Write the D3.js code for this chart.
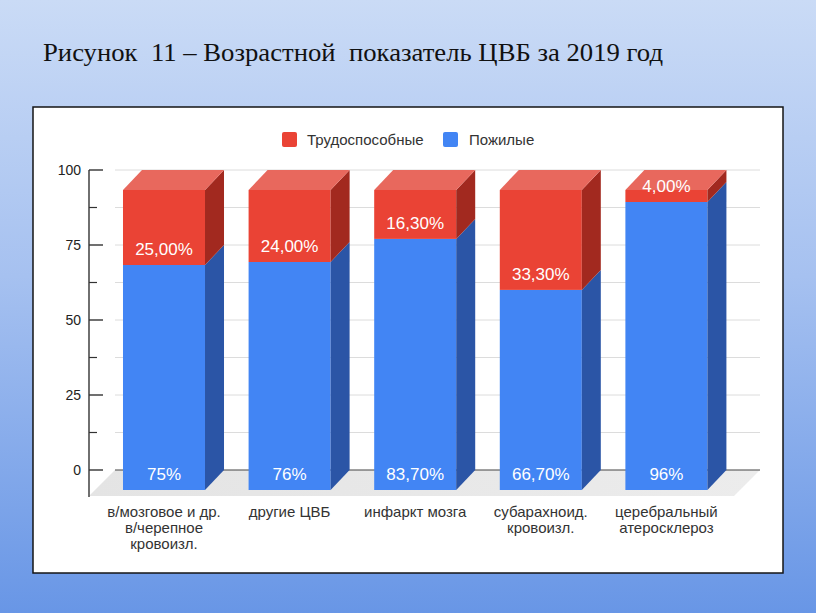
<!DOCTYPE html>
<html>
<head>
<meta charset="utf-8">
<script src="https://cdn.jsdelivr.net/npm/d3@7"></script>
<style>
html,body{margin:0;padding:0;}
svg{display:block;}
</style>
</head>
<body>
<svg id="chart" width="816" height="613"></svg>
<script>
// ---- data ----
const categories = [
  ["в/мозговое и др.", "в/черепное", "кровоизл."],
  ["другие ЦВБ"],
  ["инфаркт мозга"],
  ["субарахноид.", "кровоизл."],
  ["церебральный", "атеросклероз"]
];
const seriesNames = ["Трудоспособные", "Пожилые"];
const elderly = [75, 76, 83.7, 66.7, 96];
const working = [25, 24, 16.3, 33.3, 4];
const elderlyLabels = ["75%", "76%", "83,70%", "66,70%", "96%"];
const workingLabels = ["25,00%", "24,00%", "16,30%", "33,30%", "4,00%"];
const yTicks = [0, 25, 50, 75, 100];
const yMinorTicks = [12.5, 37.5, 62.5, 87.5];
const titleText = "Рисунок  11 – Возрастной  показатель ЦВБ за 2019 год";

// ---- setup ----
const svg = d3.select("#chart");
const defs = svg.append("defs");
const bg = defs.append("linearGradient").attr("id", "bg").attr("x1", 0).attr("y1", 0).attr("x2", 0).attr("y2", 1);
bg.append("stop").attr("offset", "0%").attr("stop-color", "#cadbf6");
bg.append("stop").attr("offset", "45%").attr("stop-color", "#a6c1f0");
bg.append("stop").attr("offset", "100%").attr("stop-color", "#6896e6");
const fl = defs.append("linearGradient").attr("id", "floor").attr("x1", 0).attr("y1", 0).attr("x2", 1).attr("y2", 0);
fl.append("stop").attr("offset", "0%").attr("stop-color", "#e4e4e4");
fl.append("stop").attr("offset", "100%").attr("stop-color", "#ececec");

svg.append("rect").attr("width", 816).attr("height", 613).attr("fill", "url(#bg)");

svg.append("text")
  .attr("x", 43).attr("y", 61)
  .attr("font-family", "'Liberation Serif','Times New Roman',serif")
  .attr("font-size", 26)
  .attr("fill", "#111")
  .attr("textLength", 620)
  .attr("lengthAdjust", "spacingAndGlyphs")
  .style("white-space", "pre")
  .text(titleText);

svg.append("rect").attr("x", 33).attr("y", 107).attr("width", 750).attr("height", 466)
  .attr("fill", "#fff").attr("stroke", "#151515").attr("stroke-width", 1.5);

const font = "'Liberation Sans', Arial, sans-serif";
const DX = 19, DY = 20;

const y = d3.scaleLinear().domain([0, 100]).range([470, 170]);
const x = d3.scaleBand().domain(d3.range(categories.length)).range([101.2, 729.2])
  .paddingInner(0.347).paddingOuter(0.1735);

// gridlines
const grid = svg.append("g");
grid.selectAll("line").data(yTicks.concat(yMinorTicks).filter(d => d !== 0)).join("line")
  .attr("x1", 115).attr("x2", 760)
  .attr("y1", d => y(d)).attr("y2", d => y(d))
  .attr("stroke", "#dcdcdc").attr("stroke-width", 1);

// floor
const y0 = y(0);
const floorDepth = 26;
svg.append("path")
  .attr("d", `M115,${y0} L760,${y0} L${760 - floorDepth},${y0 + floorDepth} L${115 - floorDepth},${y0 + floorDepth} Z`)
  .attr("fill", "url(#floor)");
svg.append("line").attr("x1", 115).attr("x2", 760).attr("y1", y0).attr("y2", y0)
  .attr("stroke", "#444").attr("stroke-width", 1.2);

// axis
const ax = svg.append("g");
ax.append("line").attr("x1", 89).attr("x2", 89).attr("y1", y(100)).attr("y2", y0 + floorDepth + 1)
  .attr("stroke", "#333").attr("stroke-width", 1.4);
ax.selectAll(".maj").data(yTicks).join("line").attr("class", "maj")
  .attr("x1", 89).attr("x2", 103).attr("y1", d => y(d)).attr("y2", d => y(d))
  .attr("stroke", "#333").attr("stroke-width", 1.4);
ax.selectAll(".min").data(yMinorTicks).join("line").attr("class", "min")
  .attr("x1", 89).attr("x2", 97).attr("y1", d => y(d)).attr("y2", d => y(d))
  .attr("stroke", "#333").attr("stroke-width", 1.2);
ax.selectAll("text").data(yTicks).join("text")
  .attr("x", 81).attr("y", d => y(d)).attr("dy", "0.35em")
  .attr("text-anchor", "end").attr("font-family", font).attr("font-size", 14).attr("fill", "#222")
  .text(d => d);

// bars
const colors = {
  red: { front: "#ea4335", top: "#e8685d", side: "#a2291f" },
  blue: { front: "#4285f4", top: "#6c9ff5", side: "#2b55a6" }
};
const segs = [];
categories.forEach((c, i) => {
  segs.push({ i, v0: 0, v1: elderly[i], col: colors.blue, label: elderlyLabels[i], isTop: false });
  segs.push({ i, v0: elderly[i], v1: elderly[i] + working[i], col: colors.red, label: workingLabels[i], isTop: true });
});
const bw = x.bandwidth();
const bars = svg.append("g");
segs.forEach(s => {
  const bx = x(s.i);
  const yt = y(s.v1), yb = y(s.v0);
  bars.append("rect").attr("x", bx).attr("y", yt + DY).attr("width", bw).attr("height", yb - yt)
    .attr("fill", s.col.front);
  bars.append("path")
    .attr("d", `M${bx + bw},${yt + DY} L${bx + bw + DX},${yt} L${bx + bw + DX},${yb} L${bx + bw},${yb + DY} Z`)
    .attr("fill", s.col.side);
  if (s.isTop) {
    bars.append("path")
      .attr("d", `M${bx},${yt + DY} L${bx + DX},${yt} L${bx + bw + DX},${yt} L${bx + bw},${yt + DY} Z`)
      .attr("fill", s.col.top);
  }
});
// value labels
segs.forEach(s => {
  bars.append("text")
    .attr("x", x(s.i) + bw / 2).attr("y", y(s.v0) + DY - 16).attr("dy", "0.36em")
    .attr("text-anchor", "middle").attr("font-family", font).attr("font-size", 17)
    .attr("fill", "#fff").text(s.label);
});

// x labels
const xl = svg.append("g");
categories.forEach((lines, i) => {
  const t = xl.append("text").attr("text-anchor", "middle").attr("font-family", font)
    .attr("font-size", 15).attr("fill", "#333");
  lines.forEach((ln, k) => {
    t.append("tspan").attr("x", x(i) + bw / 2).attr("y", 517 + k * 16).text(ln);
  });
});

// legend
const legend = svg.append("g");
const legItems = [
  { name: seriesNames[0], color: colors.red.front, x: 282, tx: 307 },
  { name: seriesNames[1], color: colors.blue.front, x: 443, tx: 469 }
];
legItems.forEach(it => {
  legend.append("rect").attr("x", it.x).attr("y", 132).attr("width", 15).attr("height", 15).attr("rx", 2)
    .attr("fill", it.color);
  legend.append("text").attr("x", it.tx).attr("y", 139.5).attr("dy", "0.35em")
    .attr("font-family", font).attr("font-size", 15).attr("fill", "#333").text(it.name);
});
</script>
</body>
</html>
